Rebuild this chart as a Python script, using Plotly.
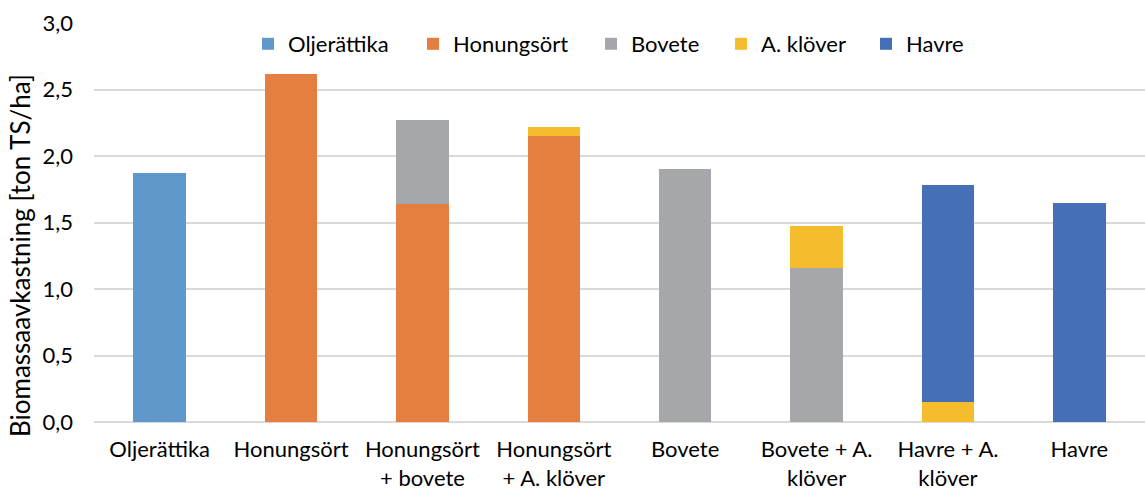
import plotly.graph_objects as go

# Odlingssystem (x-axelns kategorier)
categories = [
    "Oljerättika",
    "Honungsört",
    "Honungsört<br>+ bovete",
    "Honungsört<br>+ A. klöver",
    "Bovete",
    "Bovete + A.<br>klöver",
    "Havre + A.<br>klöver",
    "Havre",
]

# Biomassaavkastning per art, ton TS/ha (None = arten ingår inte)
oljerattika = [1.87, None, None, None, None, None, None, None]
honungsort = [None, 2.62, 1.64, 2.15, None, None, None, None]
bovete = [None, None, 0.63, None, 1.90, 1.16, None, None]
a_klover = [None, None, None, 0.07, None, 0.31, 0.15, None]
havre = [None, None, None, None, None, None, 1.63, 1.65]

y_ticks = [0, 0.5, 1.0, 1.5, 2.0, 2.5, 3.0]
y_ticktext = ["0,0", "0,5", "1,0", "1,5", "2,0", "2,5", "3,0"]

series = [
    ("Oljerättika", oljerattika, "#6198CC"),
    ("Honungsört", honungsort, "#E47F3F"),
    ("Bovete", bovete, "#A6A7AB"),
    ("A. klöver", a_klover, "#F5BD2E"),
    ("Havre", havre, "#4670B5"),
]

FONT = "Lato"
SIZE = 22

W, H = 1145, 491
M_L, M_R, M_T, M_B = 94, 0, 23, 69
PLOT_W = W - M_L - M_R
PLOT_H = H - M_T - M_B

# Left edge (px) of each legend entry, one small legend per series
legend_left_px = [248, 413, 591, 721, 866]
LEGEND_Y_PX = 44

fig = go.Figure()
legend_layout = {}
for i, (name, values, color) in enumerate(series):
    key = f"legend{i + 2}"
    fig.add_trace(go.Bar(
        name=name,
        x=categories,
        y=values,
        legend=key,
        showlegend=True,
        marker=dict(color=color, line=dict(width=0)),
    ))
    legend_layout[key] = dict(
        orientation="h",
        x=(legend_left_px[i] - M_L) / PLOT_W,
        xanchor="left",
        y=(H - M_B - LEGEND_Y_PX) / PLOT_H,
        yanchor="middle",
        font=dict(family=FONT, size=SIZE, color="#000000"),
        itemwidth=30,
        bgcolor="rgba(0,0,0,0)",
        borderwidth=0,
    )

fig.update_layout(
    barmode="stack",
    bargap=0.6,
    width=W,
    height=H,
    margin=dict(l=M_L, r=M_R, t=M_T, b=M_B, autoexpand=False),
    paper_bgcolor="white",
    plot_bgcolor="white",
    showlegend=True,
    font=dict(family=FONT, size=SIZE, color="#000000"),
    xaxis=dict(
        showgrid=False,
        showline=False,
        ticks="",
        automargin=False,
        ticklabelstandoff=12,
        tickfont=dict(family=FONT, size=SIZE),
        fixedrange=True,
    ),
    yaxis=dict(
        range=[0, 3.0],
        tickvals=y_ticks,
        ticktext=y_ticktext,
        showgrid=True,
        gridcolor="#D9D9D9",
        gridwidth=1.5,
        zeroline=True,
        zerolinecolor="#D9D9D9",
        zerolinewidth=1.5,
        showline=False,
        ticks="",
        automargin=False,
        ticklabelstandoff=20,
        tickfont=dict(family=FONT, size=SIZE),
    ),
    annotations=[
        dict(
            text="Biomassaavkastning [ton TS/ha]",
            textangle=-90,
            xref="paper",
            yref="paper",
            x=(20 - M_L) / PLOT_W,
            y=(H - M_B - 256) / PLOT_H,
            xanchor="center",
            yanchor="middle",
            showarrow=False,
            font=dict(family=FONT, size=26, color="#000000"),
        )
    ],
    **legend_layout,
)

fig.write_html("out.html")
